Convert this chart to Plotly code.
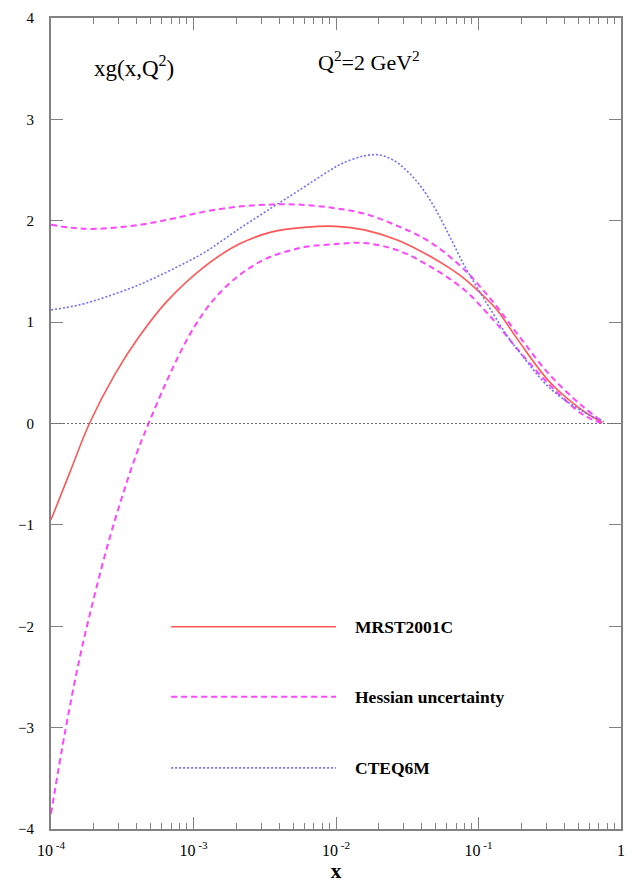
import plotly.graph_objects as go

# Gluon distribution xg(x, Q^2) at Q^2 = 2 GeV^2
mrst_x = [1.0e-4, 1.35e-4, 1.86e-4, 2.82e-4, 4.17e-4, 6.46e-4, 1.20e-3, 2.09e-3,
          3.55e-3, 6.03e-3, 1.0e-2, 1.58e-2, 2.69e-2, 4.57e-2, 6.31e-2, 7.94e-2,
          1.10e-1, 1.35e-1, 1.86e-1, 3.16e-1, 5.37e-1, 7.41e-1]
mrst_y = [-0.95, -0.49, 0.0, 0.49, 0.86, 1.20, 1.55, 1.77,
          1.89, 1.935, 1.945, 1.91, 1.81, 1.65, 1.53, 1.43,
          1.25, 1.12, 0.84, 0.41, 0.13, 0.01]

hess_up_x = [1.0e-4, 1.41e-4, 2.09e-4, 4.17e-4, 7.08e-4, 1.20e-3, 2.09e-3, 3.55e-3,
             5.37e-3, 9.12e-3, 1.58e-2, 2.69e-2, 4.57e-2, 7.94e-2, 1.10e-1,
             1.35e-1, 1.86e-1, 3.16e-1, 5.37e-1, 7.41e-1]
hess_up_y = [1.96, 1.93, 1.92, 1.96, 2.02, 2.09, 2.14, 2.16,
             2.16, 2.13, 2.07, 1.95, 1.79, 1.52, 1.30,
             1.15, 0.89, 0.48, 0.17, 0.02]

hess_lo_x = [1.0e-4, 1.26e-4, 1.58e-4, 2.0e-4, 2.51e-4, 3.16e-4, 3.98e-4, 4.84e-4,
             6.31e-4, 7.94e-4, 1.0e-3, 1.26e-3, 1.58e-3, 2.0e-3, 2.51e-3,
             3.16e-3, 3.98e-3, 5.01e-3, 6.31e-3, 1.0e-2, 1.58e-2, 2.69e-2,
             4.57e-2, 7.94e-2, 1.10e-1, 1.35e-1, 1.86e-1, 3.16e-1, 5.37e-1, 7.41e-1]
hess_lo_y = [-3.85, -3.03, -2.33, -1.72, -1.19, -0.72, -0.30, 0.0,
             0.38, 0.68, 0.94, 1.15, 1.31, 1.44, 1.54,
             1.62, 1.675, 1.715, 1.745, 1.77, 1.78, 1.71,
             1.55, 1.32, 1.12, 0.98, 0.74, 0.38, 0.09, 0.0]

cteq_x = [1.0e-4, 1.58e-4, 2.45e-4, 4.17e-4, 7.08e-4, 1.20e-3, 2.09e-3, 3.55e-3,
          5.37e-3, 9.12e-3, 1.12e-2, 1.58e-2, 2.0e-2, 2.51e-2, 3.16e-2,
          3.98e-2, 5.01e-2, 6.31e-2, 7.94e-2, 1.0e-1, 1.26e-1, 1.58e-1,
          2.0e-1, 3.16e-1, 5.37e-1, 7.59e-1]
cteq_y = [1.12, 1.17, 1.25, 1.37, 1.52, 1.69, 1.92, 2.13,
          2.29, 2.50, 2.57, 2.64, 2.65, 2.60, 2.49,
          2.33, 2.11, 1.84, 1.56, 1.32, 1.09, 0.87,
          0.68, 0.35, 0.12, 0.02]

x_tick_vals = [1e-4, 1e-3, 1e-2, 1e-1, 1]
x_tick_text = ["10<sup> -4</sup>", "10<sup> -3</sup>", "10<sup> -2</sup>", "10<sup> -1</sup>", "1"]
x_minor_vals = [m * 10.0 ** d for d in range(-4, 0) for m in range(2, 10)]
y_tick_vals = [-4, -3, -2, -1, 0, 1, 2, 3, 4]

legend_names = ["MRST2001C", "Hessian uncertainty", "CTEQ6M"]

RED = "rgb(255,85,85)"
MAGENTA = "rgb(255,70,255)"
BLUE = "rgb(110,110,255)"
AXIS = "rgb(130,130,130)"
SERIF = "Liberation Serif, Times New Roman, serif"

fig = go.Figure()
fig.add_trace(go.Scatter(x=mrst_x, y=mrst_y, mode="lines", line_shape="spline",
                         line=dict(color=RED, width=1.6), name=legend_names[0]))
fig.add_trace(go.Scatter(x=hess_up_x, y=hess_up_y, mode="lines", line_shape="spline",
                         line=dict(color=MAGENTA, width=2, dash="6px,4px"), name=legend_names[1]))
fig.add_trace(go.Scatter(x=hess_lo_x, y=hess_lo_y, mode="lines", line_shape="spline",
                         line=dict(color=MAGENTA, width=2, dash="6px,4px"), showlegend=False))
fig.add_trace(go.Scatter(x=cteq_x, y=cteq_y, mode="lines", line_shape="spline",
                         line=dict(color=BLUE, width=1.6, dash="2px,2px"), name=legend_names[2]))

# dotted zero line
fig.add_shape(type="line", xref="paper", x0=0, x1=1, yref="y", y0=0, y1=0,
              line=dict(color="rgb(110,110,110)", width=1, dash="2px,2px"))

# hand-drawn key inside the plot area
W, H = 635, 886
L, R, T, B = 51, 10, 11, 53
pw, ph = W - L - R, H - T - B


def px_x(p):
    return (p - L) / pw


def px_y(p):
    return 1 - (p - T) / ph


key_styles = [dict(color=RED, width=1.6),
              dict(color=MAGENTA, width=2, dash="6px,4px"),
              dict(color=BLUE, width=1.6, dash="2px,2px")]
key_rows = [628, 699, 771]
for name, style, row in zip(legend_names, key_styles, key_rows):
    fig.add_shape(type="line", xref="paper", yref="paper",
                  x0=px_x(172), x1=px_x(338), y0=px_y(row), y1=px_y(row), line=style)
    fig.add_annotation(xref="paper", yref="paper", x=px_x(355), y=px_y(row),
                       xanchor="left", yanchor="middle", showarrow=False,
                       text="<b>" + name + "</b>",
                       font=dict(family=SERIF, size=17.5, color="black"))

fig.add_annotation(xref="paper", yref="paper", x=px_x(135), y=px_y(60),
                   xanchor="center", yanchor="middle", showarrow=False,
                   text="xg(x,Q<sup>2</sup>)", font=dict(family=SERIF, size=23, color="black"))
fig.add_annotation(xref="paper", yref="paper", x=px_x(371), y=px_y(55),
                   xanchor="center", yanchor="middle", showarrow=False,
                   text="Q<sup>2</sup>=2 GeV<sup>2</sup>", font=dict(family=SERIF, size=22, color="black"))

fig.update_xaxes(type="log", range=[-4, 0], tickvals=x_tick_vals, ticktext=x_tick_text,
                 ticks="inside", ticklen=12, tickwidth=1, tickcolor=AXIS,
                 minor=dict(tickvals=x_minor_vals, ticks="inside", ticklen=6,
                            tickwidth=1, tickcolor=AXIS, showgrid=False),
                 showline=True, linecolor=AXIS, linewidth=2, mirror="ticks",
                 showgrid=False, zeroline=False, ticklabelstandoff=6,
                 tickfont=dict(family=SERIF, size=16, color="black"),
                 title=dict(text="<b>x</b>", font=dict(family=SERIF, size=21, color="black"),
                            standoff=2))
fig.update_yaxes(range=[-4, 4], tickvals=y_tick_vals, ticks="inside", ticklen=12,
                 tickwidth=1, tickcolor=AXIS,
                 showline=True, linecolor=AXIS, linewidth=2, mirror="ticks",
                 showgrid=False, zeroline=False, ticklabelstandoff=12,
                 tickfont=dict(family=SERIF, size=15, color="black"))

fig.update_layout(width=W, height=H, margin=dict(l=L, r=R, t=T, b=B),
                  paper_bgcolor="white", plot_bgcolor="white", showlegend=False)

fig.write_html("out.html")
